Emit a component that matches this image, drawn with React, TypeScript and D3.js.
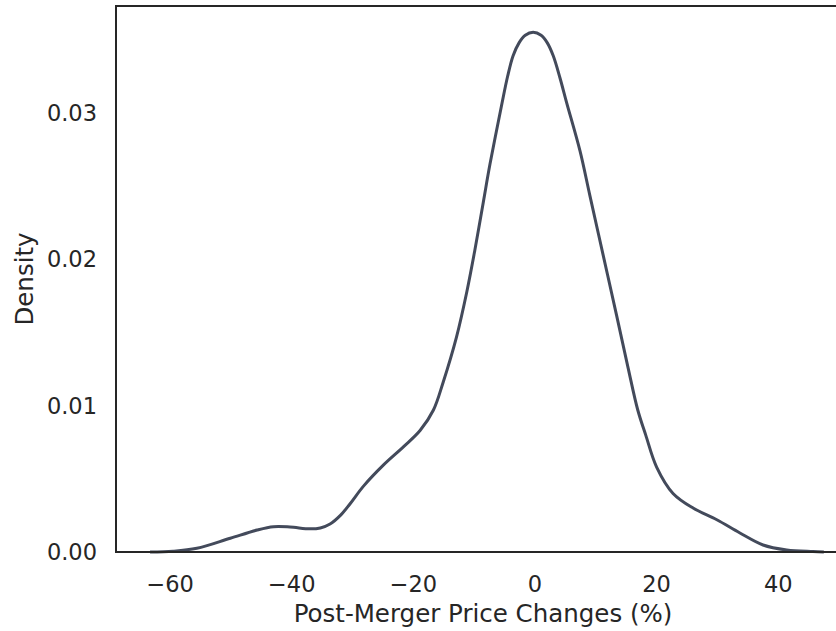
import { useMemo } from 'react';
import * as d3 from 'd3';

// values
const priceChange = [
  -63.3, -59.5, -55.6, -50.1, -45.7, -43.0, -40.3, -37.0, -35.3, -33.7, -32.0, -30.4, -28.2, -24.9,
  -21.6, -18.9, -16.7, -15.1, -12.9, -11.2, -9.9, -8.5, -7.4, -5.5, -4.5, -3.6, -2.6, -1.6, -0.3,
  1.0, 2.0, 3.0, 4.1, 5.2, 7.4, 9.0, 11.2, 13.4, 15.3, 16.9, 18.2, 20.0, 22.7, 26.0, 29.9, 33.7,
  37.5, 41.4, 45.7, 47.5,
];
const density = [
  0.0, 0.00005, 0.00025, 0.00094, 0.0015, 0.00173, 0.00171, 0.00158, 0.00164, 0.00191, 0.0025,
  0.0033, 0.0045, 0.00595, 0.0072, 0.0083, 0.0097, 0.0116, 0.0147, 0.0178, 0.0206, 0.0239, 0.0265,
  0.0305, 0.0325, 0.0339, 0.0348, 0.0353, 0.0355, 0.0353, 0.0348, 0.0339, 0.0324, 0.0307, 0.0274,
  0.0244, 0.0203, 0.0162, 0.0126, 0.0097, 0.008, 0.0058, 0.004, 0.003, 0.0022, 0.0013, 0.00048,
  0.00014, 0.00003, 0.0,
];
const xTicks = [-60, -40, -20, 0, 20, 40];
const yTicks = [0, 0.01, 0.02, 0.03];

const width = 836;
const height = 631;
const margin = { top: 6, right: -14, bottom: 79, left: 116 };
const ink = '#262626';

export default function App() {
  const innerRight = width - margin.right;
  const innerBottom = height - margin.bottom;

  const x = useMemo(
    () => d3.scaleLinear().domain([-68.9, 51.8]).range([margin.left, innerRight]),
    [innerRight],
  );
  const y = useMemo(
    () => d3.scaleLinear().domain([0, 0.0373]).range([innerBottom, margin.top]),
    [innerBottom],
  );

  const points = priceChange.map((v, i) => [v, density[i]] as [number, number]);
  const line = d3
    .line<[number, number]>()
    .x((d) => x(d[0]))
    .y((d) => y(d[1]))
    .curve(d3.curveCatmullRom.alpha(0.5));

  const fmt = (d: number) => (d < 0 ? `\u2212${Math.abs(d)}` : `${d}`);

  return (
    <svg
      width={width}
      height={height}
      style={{ position: 'absolute', left: 0, top: 0, fontFamily: 'DejaVu Sans' }}
    >
      <rect width={width} height={height} fill="#fff" />
      <path d={line(points)!} fill="none" stroke="#434a5b" strokeWidth={3} strokeLinejoin="round" />
      <rect
        x={margin.left}
        y={margin.top}
        width={innerRight - margin.left}
        height={innerBottom - margin.top}
        fill="none"
        stroke={ink}
        strokeWidth={2}
      />
      {xTicks.map((t) => (
        <text key={t} x={x(t)} y={592} textAnchor="middle" fontSize={22.5} fill={ink}>
          {fmt(t)}
        </text>
      ))}
      {yTicks.map((t) => (
        <text
          key={t}
          x={margin.left - 19}
          y={y(t)}
          dy="0.36em"
          textAnchor="end"
          fontSize={22.5}
          fill={ink}
        >
          {t.toFixed(2)}
        </text>
      ))}
      <text x={(margin.left + innerRight) / 2} y={622} textAnchor="middle" fontSize={24.5} fill={ink}>
        Post-Merger Price Changes (%)
      </text>
      <text
        transform={`translate(33,${(margin.top + innerBottom) / 2}) rotate(-90)`}
        textAnchor="middle"
        fontSize={24.5}
        fill={ink}
      >
        Density
      </text>
    </svg>
  );
}
